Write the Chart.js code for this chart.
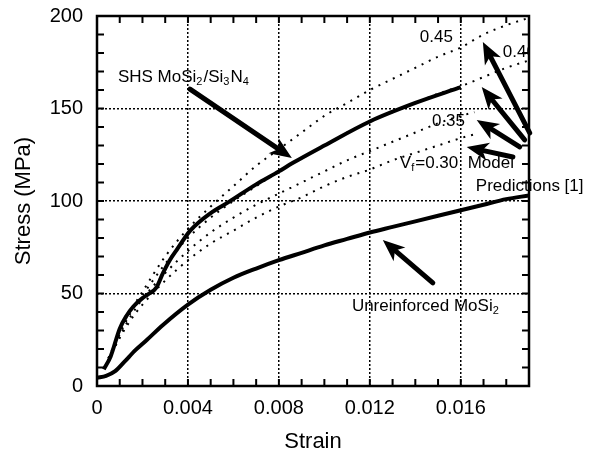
<!DOCTYPE html>
<html>
<head>
<meta charset="utf-8">
<script src="https://cdn.jsdelivr.net/npm/chart.js@4/dist/chart.umd.min.js"></script>
<style>
  html, body { margin: 0; background: #fff; }
  #grafico { display: block; }
</style>
</head>
<body>
<canvas id="grafico" width="590" height="451"></canvas>
<script>
// SHS MoSi2/Si3N4 composite (measured)
const strainShs = [0.0003, 0.0006, 0.001, 0.0013, 0.0016, 0.002, 0.0023, 0.0026, 0.0029, 0.0032, 0.0035, 0.0041, 0.005, 0.0058, 0.007, 0.008, 0.0086, 0.010, 0.012, 0.014, 0.016];
const stressShs = [9, 16, 31, 38, 43, 47.5, 50, 53, 61, 68, 73.5, 84, 93.5, 99.5, 109, 116, 120.5, 130, 143, 153, 161.5];

// unreinforced MoSi2
const strainMo = [0, 0.0004, 0.0008, 0.0012, 0.0017, 0.0022, 0.0029, 0.004, 0.005, 0.006, 0.007, 0.008, 0.009, 0.010, 0.011, 0.012, 0.013, 0.014, 0.015, 0.016, 0.017, 0.018, 0.019];
const stressMo = [4.5, 5.5, 8, 13, 19.5, 25, 33, 44, 52, 58.5, 63.5, 68, 72, 76, 79.5, 83, 86, 89, 92, 95, 98, 101, 103];

// model predictions [1]
const strainModelLong = [0.0005, 0.001, 0.0015, 0.002, 0.003, 0.004, 0.005, 0.006, 0.007, 0.008, 0.009, 0.010, 0.011, 0.012, 0.013, 0.014, 0.015, 0.016, 0.017, 0.018, 0.019];
const stressV45 = [15, 29, 41, 51, 70, 85, 97, 108, 119, 128, 137, 146, 153, 160, 166, 172, 178, 183, 190, 195, 199];
const stressV40 = [15, 28, 40, 49, 66, 80, 91, 100, 108, 116, 123, 130, 137, 143, 148, 153, 158, 162, 167, 172, 176];
const strainModelShort = [0.0005, 0.001, 0.0015, 0.002, 0.003, 0.004, 0.005, 0.006, 0.007, 0.008, 0.009, 0.010, 0.011, 0.012, 0.013, 0.014, 0.015, 0.016, 0.0166];
const stressV35 = [14, 27, 38, 47, 61, 73, 83, 91, 98, 104, 110, 116, 122, 127, 132, 137, 142, 146, 148];
const stressV30 = [14, 26, 36, 44, 57, 68, 77, 84, 91, 97, 102, 108, 113, 117, 122, 126, 130, 134, 136];

// axis ticks
const xMax = 0.019;
const xLabelTicks = [0, 0.004, 0.008, 0.012, 0.016];
const yLabelTicks = [0, 50, 100, 150, 200];

// annotations (data coordinates), text parts: [text, isSubscript]
const noteX = [0.00092, 0.0142, 0.01785, 0.01473, 0.01332, 0.01666, 0.01121];
const noteY = [167, 188.6, 180.5, 143.2, 120.5, 108.1, 43.2];
const noteText = [
  [['SHS MoSi'], ['2', 1], ['/Si'], ['3', 1], ['N'], ['4', 1]],
  [['0.45']],
  [['0.40']],
  [['0.35']],
  [['V'], ['f', 1], ['=0.30  Model']],
  [['Predictions [1]']],
  [['Unreinforced MoSi'], ['2', 1]]
];
const noteClip = [false, false, true, false, false, false, false];

// arrows: tail -> tip (data coordinates)
const arrowFrom = [[0.00409, 160.5], [0.01477, 55.7], [0.01903, 136.8], [0.01881, 133], [0.01859, 129.2], [0.01829, 123.8]];
const arrowTo = [[0.00857, 123.2], [0.01257, 78.9], [0.01697, 186], [0.01692, 161.6], [0.0167, 143.8], [0.01626, 129.2]];

const pts = (xs, ys) => xs.map((x, i) => ({ x: x, y: ys[i] }));
const FONT = '"Liberation Sans", Arial, Helvetica, sans-serif';

function isOn(v, step) {
  const r = v / step;
  return Math.abs(r - Math.round(r)) < 1e-6;
}

function drawParts(ctx, parts, x, y, size) {
  let cx = x;
  ctx.textBaseline = 'middle';
  ctx.textAlign = 'left';
  for (const p of parts) {
    const sub = p[1] === 1;
    const s = sub ? Math.round(size * 0.62) : size;
    ctx.font = s + 'px ' + FONT;
    ctx.fillText(p[0], cx, sub ? y + size * 0.3 : y);
    cx += ctx.measureText(p[0]).width + (sub ? 1 : 0);
  }
}

function drawArrow(ctx, x1, y1, x2, y2) {
  const a = Math.atan2(y2 - y1, x2 - x1);
  const len = 22, half = 9;
  const bx = x2 - len * Math.cos(a), by = y2 - len * Math.sin(a);
  ctx.lineWidth = 5;
  ctx.lineCap = 'round';
  ctx.beginPath();
  ctx.moveTo(x1, y1);
  ctx.lineTo(bx + 6 * Math.cos(a), by + 6 * Math.sin(a));
  ctx.stroke();
  ctx.beginPath();
  ctx.moveTo(x2, y2);
  ctx.lineTo(bx - half * Math.sin(a), by + half * Math.cos(a));
  ctx.lineTo(bx + 6 * Math.cos(a), by + 6 * Math.sin(a));
  ctx.lineTo(bx + half * Math.sin(a), by - half * Math.cos(a));
  ctx.closePath();
  ctx.fill();
}

const framePlugin = {
  id: 'frame',
  afterDraw(chart) {
    const { ctx, chartArea: a, scales: { x, y } } = chart;
    ctx.save();
    ctx.strokeStyle = '#000';
    ctx.fillStyle = '#000';
    // inward tick marks on all four sides
    ctx.lineWidth = 2;
    ctx.beginPath();
    for (let i = 0; i <= 19; i++) {
      const px = x.getPixelForValue(i * 0.001);
      ctx.moveTo(px, a.bottom); ctx.lineTo(px, a.bottom - 7);
      ctx.moveTo(px, a.top); ctx.lineTo(px, a.top + 7);
    }
    for (let v = 0; v <= 200; v += 10) {
      const py = y.getPixelForValue(v);
      ctx.moveTo(a.left, py); ctx.lineTo(a.left + 7, py);
      ctx.moveTo(a.right, py); ctx.lineTo(a.right - 7, py);
    }
    ctx.stroke();
    ctx.lineWidth = 2.5;
    ctx.strokeRect(a.left, a.top, a.right - a.left, a.bottom - a.top);

    // arrows
    for (let i = 0; i < arrowFrom.length; i++) {
      drawArrow(ctx,
        x.getPixelForValue(arrowFrom[i][0]), y.getPixelForValue(arrowFrom[i][1]),
        x.getPixelForValue(arrowTo[i][0]), y.getPixelForValue(arrowTo[i][1]));
    }

    // labels
    for (let i = 0; i < noteText.length; i++) {
      ctx.save();
      if (noteClip[i]) {
        ctx.beginPath();
        ctx.rect(a.left, a.top, a.right - a.left, a.bottom - a.top);
        ctx.clip();
      }
      drawParts(ctx, noteText[i], x.getPixelForValue(noteX[i]), y.getPixelForValue(noteY[i]), 17);
      ctx.restore();
    }
    ctx.restore();
  }
};

const dotted = {
  borderColor: '#000',
  borderWidth: 2,
  borderDash: [2, 6],
  pointRadius: 0,
  fill: false,
  cubicInterpolationMode: 'monotone'
};
const solid = {
  borderColor: '#000',
  borderWidth: 4,
  pointRadius: 0,
  fill: false,
  cubicInterpolationMode: 'monotone'
};

const ctx = document.getElementById('grafico');

new Chart(ctx, {
  type: 'line',
  data: {
    datasets: [
      { label: 'Vf=0.45', data: pts(strainModelLong, stressV45), ...dotted },
      { label: 'Vf=0.40', data: pts(strainModelLong, stressV40), ...dotted },
      { label: 'Vf=0.35', data: pts(strainModelShort, stressV35), ...dotted },
      { label: 'Vf=0.30', data: pts(strainModelShort, stressV30), ...dotted },
      { label: 'SHS MoSi2/Si3N4', data: pts(strainShs, stressShs), ...solid },
      { label: 'Unreinforced MoSi2', data: pts(strainMo, stressMo), ...solid }
    ]
  },
  options: {
    responsive: false,
    animation: false,
    events: [],
    layout: { padding: { top: 16, right: 61, left: 0, bottom: 0 } },
    plugins: { legend: { display: false }, tooltip: { enabled: false } },
    scales: {
      x: {
        type: 'linear',
        min: 0,
        max: xMax,
        afterFit: s => { s.height = 65; s.paddingLeft = 0; s.paddingRight = 0; },
        afterBuildTicks: s => {
          const t = [];
          for (let i = 0; i <= 19; i++) t.push({ value: i * 0.001 });
          s.ticks = t;
        },
        ticks: {
          autoSkip: false,
          maxRotation: 0,
          padding: 10,
          color: '#000',
          font: { family: FONT, size: 20 },
          callback: v => xLabelTicks.some(t => Math.abs(t - v) < 1e-9) ? (v === 0 ? '0' : v.toFixed(3)) : ''
        },
        grid: {
          drawTicks: false,
          lineWidth: 1.5,
          color: c => (c.tick && isOn(c.tick.value, 0.004) && c.tick.value > 0 && c.tick.value < xMax) ? '#000' : 'rgba(0,0,0,0)'
        },
        border: { display: false, dash: [2, 2] },
        title: {
          display: true,
          text: 'Strain',
          color: '#000',
          font: { family: FONT, size: 22, lineHeight: 0.8 },
          padding: { top: 0, bottom: 0 }
        }
      },
      y: {
        type: 'linear',
        min: 0,
        max: 200,
        afterFit: s => { s.width = 97; s.paddingTop = 0; s.paddingBottom = 0; },
        afterBuildTicks: s => {
          const t = [];
          for (let v = 0; v <= 200; v += 10) t.push({ value: v });
          s.ticks = t;
        },
        ticks: {
          autoSkip: false,
          padding: 14,
          color: '#000',
          font: { family: FONT, size: 20 },
          callback: v => yLabelTicks.includes(v) ? String(v) : ''
        },
        grid: {
          drawTicks: false,
          lineWidth: 1.5,
          color: c => (c.tick && c.tick.value % 50 === 0 && c.tick.value > 0 && c.tick.value < 200) ? '#000' : 'rgba(0,0,0,0)'
        },
        border: { display: false, dash: [2, 2] },
        title: {
          display: true,
          text: 'Stress (MPa)',
          color: '#000',
          font: { family: FONT, size: 22 },
          padding: { top: 11, bottom: 0 }
        }
      }
    }
  },
  plugins: [framePlugin]
});
</script>
</body>
</html>
